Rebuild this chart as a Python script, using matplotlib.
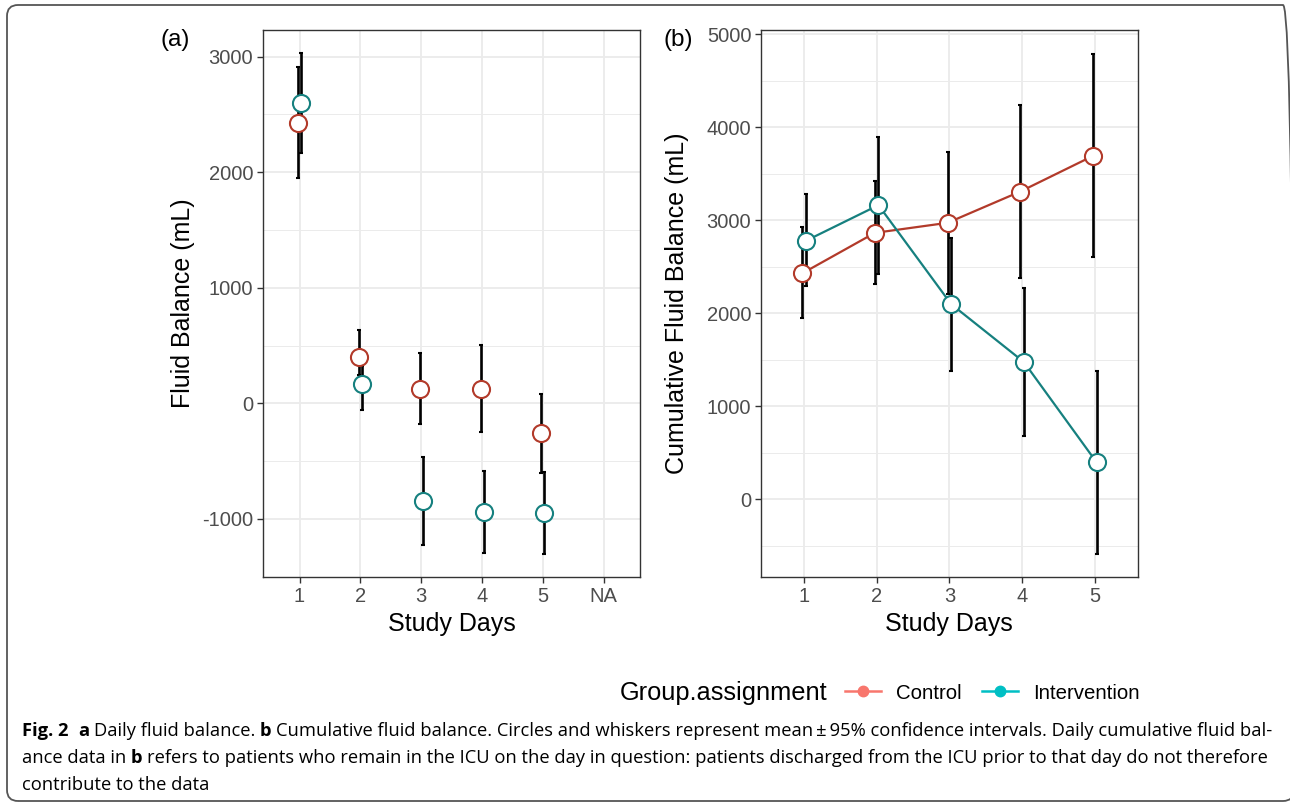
import matplotlib
matplotlib.use("Agg")
import matplotlib.pyplot as plt
import numpy as np
from matplotlib.lines import Line2D
from matplotlib.patches import FancyBboxPatch
from matplotlib.transforms import IdentityTransform
from matplotlib.ticker import MultipleLocator

# ---------------- data ----------------
days = [1, 2, 3, 4, 5]
daily_xlabels = ["1", "2", "3", "4", "5", "NA"]
cum_xlabels = ["1", "2", "3", "4", "5"]

daily_ctrl_mean = [2430, 400, 126, 126, -260]
daily_ctrl_lo = [1948, 250, -182, -251, -600]
daily_ctrl_hi = [2913, 634, 432, 504, 80]
daily_int_mean = [2597, 164, -843, -938, -946]
daily_int_lo = [2170, -58, -1226, -1292, -1306]
daily_int_hi = [3029, 320, -462, -583, -597]

cum_ctrl_mean = [2427, 2863, 2971, 3307, 3690]
cum_ctrl_lo = [1946, 2313, 2205, 2383, 2599]
cum_ctrl_hi = [2922, 3419, 3727, 4240, 4786]
cum_int_mean = [2777, 3161, 2097, 1475, 397]
cum_int_lo = [2291, 2417, 1381, 683, -588]
cum_int_hi = [3276, 3893, 2813, 2270, 1378]

groups = ["Control", "Intervention"]
# --------------------------------------

W, H = 1290, 805
plt.rcParams["font.family"] = ["Liberation Sans", "DejaVu Sans"]
plt.rcParams["axes.unicode_minus"] = False
fig = plt.figure(figsize=(W / 100, H / 100), dpi=100)

CTRL_DARK = "#B23A2A"
INT_DARK = "#16807F"
CTRL_LEG = "#F8766D"
INT_LEG = "#00BFC4"
GRID = "#EBEBEB"
DODGE = 0.025


def style_axes(ax):
    for s in ax.spines.values():
        s.set_color("#333333")
        s.set_linewidth(1.0)
    ax.set_facecolor("white")
    ax.grid(True, which="major", color=GRID, lw=1.3, zorder=0)
    ax.grid(True, which="minor", axis="y", color=GRID, lw=0.7, zorder=0)
    ax.tick_params(axis="both", which="major", length=4, width=1.0, color="#333333",
                   labelcolor="#4D4D4D", labelsize=14.5, pad=3)
    ax.tick_params(axis="y", which="minor", length=0)
    ax.set_axisbelow(True)


def draw_group(ax, x, mean, lo, hi, color, with_line):
    x = np.asarray(x, dtype=float)
    mean = np.asarray(mean, dtype=float)
    lo = np.asarray(lo, dtype=float)
    hi = np.asarray(hi, dtype=float)
    if with_line:
        ax.plot(x, mean, color=color, lw=1.6, zorder=2)
    ax.errorbar(x, mean, yerr=[mean - lo, hi - mean], fmt="none", ecolor="black",
                elinewidth=1.9, capsize=1.2, capthick=1.5, zorder=3)
    ax.plot(x, mean, "o", ms=12.3, mfc="white", mec=color, mew=1.5, zorder=4)


# ---- panel (a) ----
axa = fig.add_axes([263 / W, 1 - 577 / H, (640.3 - 263) / W, (577 - 30) / H])
style_axes(axa)
xd = np.array(days, dtype=float)
draw_group(axa, xd - DODGE, daily_ctrl_mean, daily_ctrl_lo, daily_ctrl_hi, CTRL_DARK, False)
draw_group(axa, xd + DODGE, daily_int_mean, daily_int_lo, daily_int_hi, INT_DARK, False)
axa.set_xlim(0.4, len(daily_xlabels) + 0.6)
axa.set_xticks(range(1, len(daily_xlabels) + 1))
axa.set_xticklabels(daily_xlabels)
axa.set_ylim(-1502, 3231)
axa.yaxis.set_major_locator(MultipleLocator(1000))
axa.yaxis.set_minor_locator(MultipleLocator(500))
axa.set_xlabel("Study Days", fontsize=18, color="black")
axa.set_ylabel("Fluid Balance (mL)", fontsize=18, color="black")
axa.xaxis.set_label_coords(0.5, -0.064)
axa.yaxis.set_label_coords(-0.18, 0.5)

# ---- panel (b) ----
axb = fig.add_axes([761 / W, 1 - 577.3 / H, (1137.7 - 761) / W, (577.3 - 30) / H])
style_axes(axb)
draw_group(axb, xd - DODGE, cum_ctrl_mean, cum_ctrl_lo, cum_ctrl_hi, CTRL_DARK, True)
draw_group(axb, xd + DODGE, cum_int_mean, cum_int_lo, cum_int_hi, INT_DARK, True)
axb.set_xlim(0.41, len(cum_xlabels) + 0.59)
axb.set_xticks(range(1, len(cum_xlabels) + 1))
axb.set_xticklabels(cum_xlabels)
axb.set_ylim(-838, 5043)
axb.yaxis.set_major_locator(MultipleLocator(1000))
axb.yaxis.set_minor_locator(MultipleLocator(500))
axb.set_xlabel("Study Days", fontsize=18, color="black")
axb.set_ylabel("Cumulative Fluid Balance (mL)", fontsize=18, color="black")
axb.xaxis.set_label_coords(0.5, -0.064)
axb.yaxis.set_label_coords(-0.19, 0.5)

# panel tags
fig.text(175 / W, 1 - 40 / H, "(a)", fontsize=17.5, ha="center", va="center")
fig.text(678 / W, 1 - 40 / H, "(b)", fontsize=17.5, ha="center", va="center")

# ---- legend ----
fig.text(620 / W, 1 - 693 / H, "Group.assignment", fontsize=18.3, ha="left", va="center")
handles = [Line2D([], [], color=CTRL_LEG, lw=1.8, marker="o", ms=7.5),
           Line2D([], [], color=INT_LEG, lw=1.8, marker="o", ms=7.5)]
fig.legend(handles, groups, loc="center left", bbox_to_anchor=(845 / W, 1 - 693 / H),
           ncol=2, frameon=False, fontsize=14.7, handlelength=1.75, handletextpad=0.75,
           columnspacing=1.0, borderaxespad=0, borderpad=0)

# ---- border ----
border = FancyBboxPatch((7, 4), 1287, 796, boxstyle="round,pad=0,rounding_size=11",
                        transform=IdentityTransform(), fill=False, ec="#555555", lw=1.3)
fig.add_artist(border)

# ---- caption ----
cap_family = ["Open Sans", "DejaVu Sans"]
cap_size = 13.2
renderer = fig.canvas.get_renderer()


def text_width(s, bold):
    t = fig.text(0, 0, s, fontsize=cap_size, family=cap_family,
                 fontweight="bold" if bold else "normal")
    w = t.get_window_extent(renderer).width
    t.remove()
    return w


space_w = text_width("x x", False) - text_width("xx", False)

caption_lines = [
    [("Fig. 2", True), ("", False), ("a", True), ("Daily fluid balance.", False), ("b", True),
     ("Cumulative fluid balance. Circles and whiskers represent mean\u2009\u00b1\u200995% confidence intervals. Daily cumulative fluid bal-", False)],
    [("ance data in", False), ("b", True),
     ("refers to patients who remain in the ICU on the day in question: patients discharged from the ICU prior to that day do not therefore", False)],
    [("contribute to the data", False)],
]
baselines = [736, 763, 790]
for segs, yb in zip(caption_lines, baselines):
    x = 22.0
    for i, (s, bold) in enumerate(segs):
        if s:
            t = fig.text(x / W, 1 - yb / H, s, fontsize=cap_size, family=cap_family,
                         fontweight="bold" if bold else "normal", ha="left", va="baseline",
                         color="black")
            x += t.get_window_extent(renderer).width
        x += space_w

fig.savefig("out.png", dpi=100)
